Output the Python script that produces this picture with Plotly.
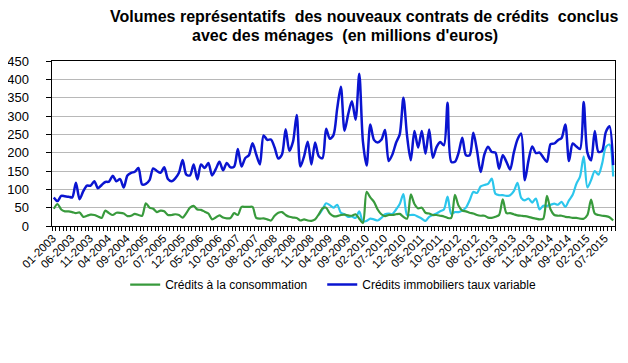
import plotly.graph_objects as go

# Monthly categories 01-2003 .. 09-2015
months = [f"{m:02d}-{y}" for y in range(2003, 2016) for m in range(1, 13)][:153]

credits_immobiliers = [
    78, 68, 82, 81, 80, 78, 118, 73, 95, 110,
    110, 122, 103, 112, 120, 121, 137, 122, 128, 105,
    138, 145, 148, 158, 113, 115, 125, 157, 150, 145,
    160, 128, 122, 130, 145, 180, 140, 138, 168, 127,
    168, 158, 172, 138, 155, 175, 152, 172, 160, 162,
    210, 162, 185, 193, 226, 195, 168, 247, 235, 236,
    214, 184, 195, 264, 205, 230, 303, 162, 190, 230,
    168, 228, 190, 185, 265, 238, 248, 320, 380, 260,
    305, 340, 290, 415, 230, 165, 277, 235, 228, 235,
    262, 177, 195, 227, 250, 350, 245, 179, 259, 214,
    259, 197, 263, 186, 215, 229, 220, 336, 175, 175,
    200, 241, 193, 193, 254, 206, 147, 195, 216, 202,
    200, 156, 193, 175, 154, 200, 236, 252, 125, 179,
    217, 199, 200, 187, 175, 223, 225, 234, 240, 277,
    177, 225, 217, 210, 338, 200, 179, 259, 202, 205,
    256, 272, 166,
]

credits_consommation = [
    47, 60, 45, 40, 40, 38, 35, 37, 25, 28,
    31, 30, 26, 22, 42, 35, 30, 36, 36, 34,
    27, 28, 33, 30, 28, 62, 50, 47, 38, 42,
    40, 30, 30, 32, 30, 23, 35, 50, 55, 45,
    44, 39, 34, 18, 23, 29, 23, 21, 22, 35,
    30, 52, 52, 52, 52, 22, 20, 21, 18, 15,
    28, 36, 38, 30, 25, 23, 22, 15, 18, 15,
    14, 18, 32, 48, 50, 34, 27, 27, 30, 31,
    29, 28, 32, 20, 8, 93, 78, 66, 45, 32,
    27, 30, 30, 32, 33, 25, 20, 86, 60, 48,
    50, 36, 34, 30, 30, 28, 26, 22, 22, 85,
    55, 42, 40, 36, 34, 30, 28, 28, 23, 22,
    25, 30, 73, 35, 35, 32, 29, 28, 27, 25,
    22, 20, 18, 20, 82, 45, 30, 28, 28, 25,
    24, 22, 22, 20, 20, 30, 72, 34, 30, 28,
    27, 24, 15,
]

credits_autres = [None] * 72 + [
    30, 45, 62, 57, 50, 58, 36, 32,
    25, 26, 22, 40, 12, 14, 20, 18, 15, 22,
    32, 34, 33, 45, 60, 87, 30, 30, 30, 25,
    20, 14, 25, 30, 34, 40, 45, 80, 33, 38,
    38, 42, 50, 70, 93, 90, 108, 112, 115, 129,
    88, 84, 84, 82, 84, 95, 118, 77, 70, 75,
    64, 75, 45, 55, 55, 58, 61, 58, 66, 52,
    70, 85, 115, 135, 190, 105, 125, 150, 140, 170,
    215, 222, 135,
]

title_lines = [
    "Volumes représentatifs  des nouveaux contrats de crédits  conclus",
    "avec des ménages  (en millions d'euros)",
]

month_index = list(range(len(months)))
label_index = month_index[::5]
label_text = months[::5]

fig = go.Figure()
fig.add_trace(go.Scatter(
    x=month_index, y=credits_autres, mode="lines", name="Autres",
    line=dict(color="#2CC6EC", width=2.2, shape="spline", smoothing=0.8),
    showlegend=False,
))
fig.add_trace(go.Scatter(
    x=month_index, y=credits_consommation, mode="lines", name="Crédits à la consommation",
    line=dict(color="#389A3C", width=2.2, shape="spline", smoothing=0.8),
    legend="legend",
))
fig.add_trace(go.Scatter(
    x=month_index, y=credits_immobiliers, mode="lines", name="Crédits immobiliers taux variable",
    line=dict(color="#0A14D0", width=2.5, shape="spline", smoothing=0.8),
    legend="legend2",
))

legend_common = dict(
    orientation="h", xanchor="left", y=-0.355, yanchor="middle",
    font=dict(size=12), bgcolor="rgba(0,0,0,0)", itemwidth=30,
)

fig.update_layout(
    width=620, height=355,
    paper_bgcolor="white", plot_bgcolor="white",
    margin=dict(l=44, r=13, t=53, b=137),
    font=dict(family="Liberation Sans, Arial, sans-serif", color="black"),
    legend=dict(x=0.13, **legend_common),
    legend2=dict(x=0.48, **legend_common),
    showlegend=True,
)
for txt, xpos, ypos in zip(title_lines, [0.555, 0.521], [1.267, 1.152]):
    fig.add_annotation(
        text=f"<b>{txt}</b>", xref="paper", yref="paper", x=xpos, y=ypos,
        xanchor="center", yanchor="middle", showarrow=False,
        font=dict(size=16, family="Liberation Sans, Arial, sans-serif", color="black"),
    )

fig.update_xaxes(
    range=[-0.5, len(months) - 0.5], automargin=False,
    tickmode="array", tickvals=label_index, ticktext=label_text,
    tickangle=-45, tickfont=dict(size=11.5),
    ticklabelposition="outside left",
    ticks="outside", ticklen=19, tickcolor="rgba(0,0,0,0)",
    minor=dict(ticks="outside", ticklen=4, tickcolor="black", dtick=1, tick0=-0.5),
    showline=True, linecolor="black", linewidth=1, mirror=True,
    showgrid=False, zeroline=False,
)
fig.update_yaxes(
    range=[0, 450], dtick=50, tickfont=dict(size=13), automargin=False,
    ticksuffix="\u00a0" * 4,
    ticks="outside", ticklen=5, tickcolor="black",
    showline=True, linecolor="black", linewidth=1, mirror=True,
    showgrid=True, gridcolor="#B8B8B8", gridwidth=1, zeroline=False,
)

fig.write_html("out.html")
